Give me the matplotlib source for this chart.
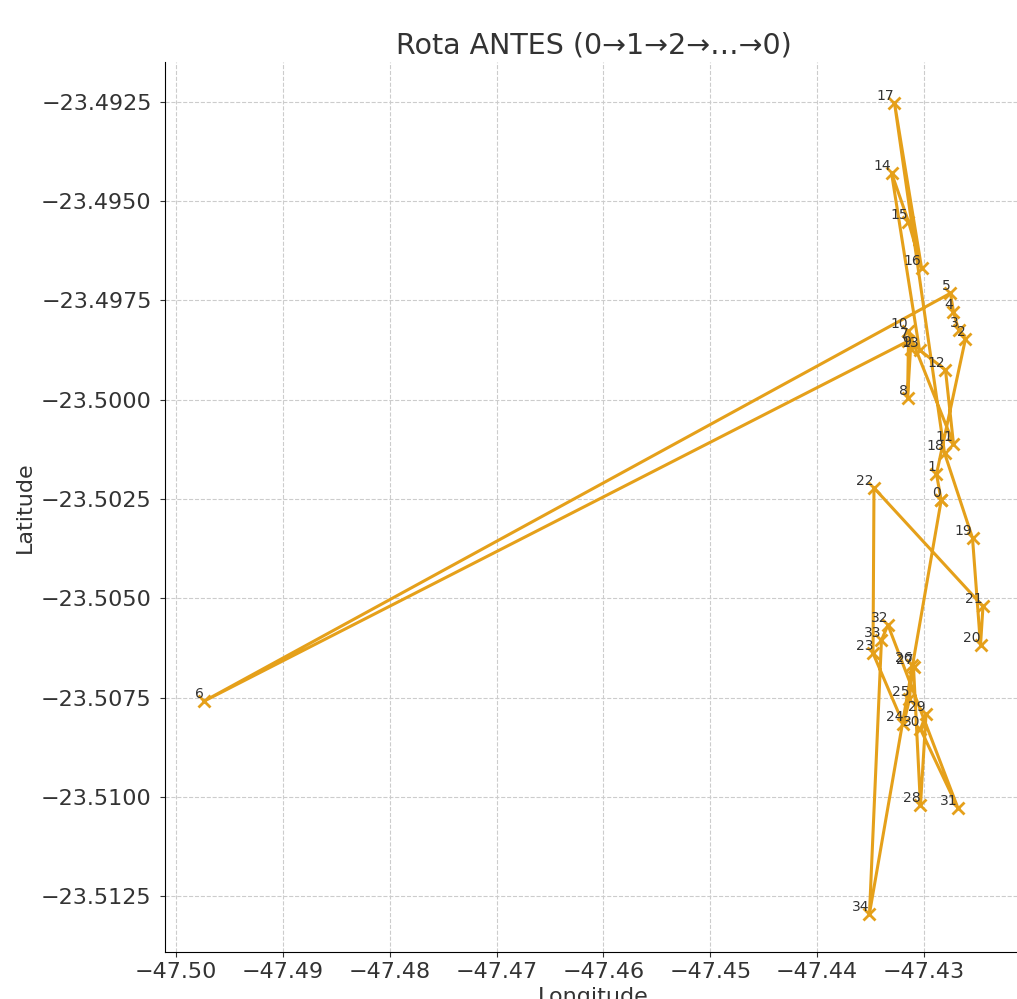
import matplotlib
matplotlib.use("Agg")
import matplotlib.pyplot as plt

# stop order 0..34, route returns to 0 at the end
stop_ids = list(range(35))

lon = [-47.42839, -47.42883, -47.42612, -47.42677, -47.42724, -47.42752, -47.49740,
       -47.43145, -47.43154, -47.43126, -47.43145, -47.42724, -47.42799, -47.43042,
       -47.43304, -47.43145, -47.43023, -47.43276, -47.42808, -47.42546, -47.42471,
       -47.42448, -47.43468, -47.43477, -47.43192, -47.43136, -47.43108, -47.43098,
       -47.43033, -47.42981, -47.43033, -47.42682, -47.43337, -47.43398, -47.43510]

lat = [-23.50253, -23.50187, -23.49847, -23.49824, -23.49779, -23.49732, -23.50759,
       -23.49852, -23.49996, -23.49872, -23.49827, -23.50111, -23.49925, -23.49875,
       -23.49429, -23.49552, -23.49668, -23.49253, -23.50134, -23.50348, -23.50618,
       -23.50520, -23.50222, -23.50638, -23.50817, -23.50754, -23.50668, -23.50673,
       -23.51021, -23.50792, -23.50829, -23.51028, -23.50567, -23.50605, -23.51293]

route_color = '#E5A01A'

fig = plt.figure(figsize=(10.17, 9.99), dpi=100)
ax = fig.add_axes([0.1622, 0.047, 0.8427, 0.891])

# closed route
xs = lon + [lon[0]]
ys = lat + [lat[0]]
ax.plot(xs, ys, color=route_color, linewidth=2.2, marker='x',
        markersize=8, markeredgewidth=2)

for i, x, y in zip(stop_ids, lon, lat):
    ax.text(x, y, str(i), ha='right', va='bottom', fontsize=10, color='#333333')

ax.set_xlim(-47.50103, -47.42083)
ax.set_ylim(-23.5139, -23.4915)
ax.ticklabel_format(useOffset=False)

ax.set_title("Rota ANTES (0→1→2→…→0)", fontsize=20.5, color='#333333')
ax.set_xlabel("Longitude", fontsize=16, color='#333333')
ax.set_ylabel("Latitude", fontsize=16, color='#333333')
ax.tick_params(labelsize=16, colors='#333333')
ax.tick_params(axis='y', pad=6)
ax.grid(True, linestyle='--', color='#cccccc', linewidth=0.8)
ax.spines['top'].set_visible(False)
ax.spines['right'].set_visible(False)

fig.savefig("out.png", dpi=100)
